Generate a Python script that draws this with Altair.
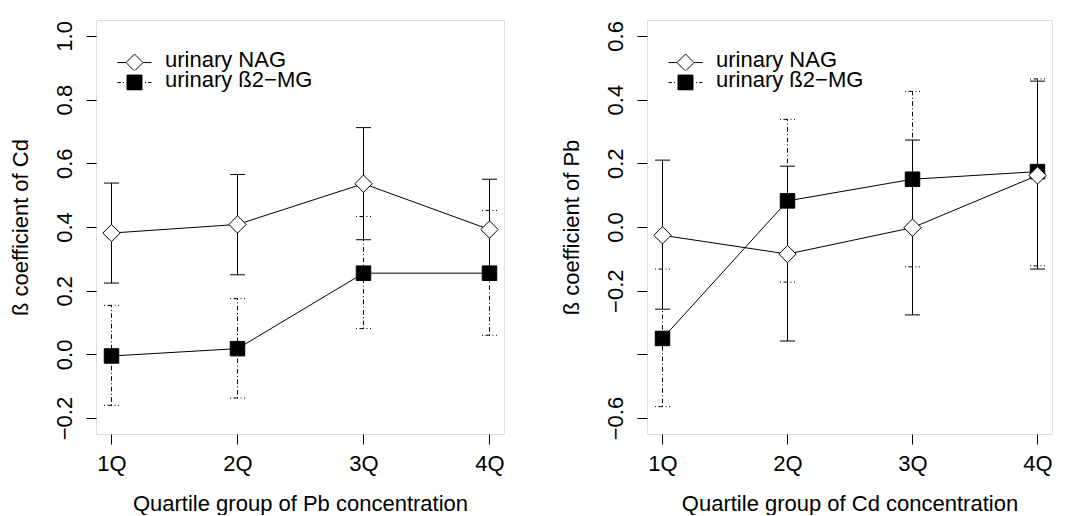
import altair as alt
import pandas as pd

# ---------------- data ----------------
quartile_pos = [1, 2, 3, 4]
series_names = ["urinary NAG", "urinary ß2−MG"]

# Left panel: beta coefficient of Cd by quartile of Pb
left_nag = [0.381, 0.408, 0.536, 0.392]
left_nag_lo = [0.224, 0.250, 0.360, 0.234]
left_nag_hi = [0.538, 0.565, 0.712, 0.550]
left_b2 = [-0.005, 0.018, 0.255, 0.255]
left_b2_lo = [-0.160, -0.137, 0.081, 0.060]
left_b2_hi = [0.154, 0.175, 0.433, 0.452]

# Right panel: beta coefficient of Pb by quartile of Cd
right_nag = [-0.026, -0.085, -0.002, 0.162]
right_nag_lo = [-0.258, -0.358, -0.276, -0.132]
right_nag_hi = [0.210, 0.191, 0.273, 0.458]
right_b2 = [-0.350, 0.082, 0.150, 0.174]
right_b2_lo = [-0.564, -0.173, -0.125, -0.122]
right_b2_hi = [-0.132, 0.338, 0.426, 0.465]

left_yticks = [-0.2, 0.0, 0.2, 0.4, 0.6, 0.8, 1.0]
right_yticks = [-0.6, -0.4, -0.2, 0.0, 0.2, 0.4, 0.6]

FONT = "Liberation Sans"
FS = 22
DOTDASH = [1, 2.5, 4.5, 2.5]


def make_df(nag, nag_lo, nag_hi, b2, b2_lo, b2_hi):
    rows = []
    for i, q in enumerate(quartile_pos):
        rows.append(dict(q=q, series=series_names[0], est=nag[i], lo=nag_lo[i], hi=nag_hi[i]))
    for i, q in enumerate(quartile_pos):
        rows.append(dict(q=q, series=series_names[1], est=b2[i], lo=b2_lo[i], hi=b2_hi[i]))
    return pd.DataFrame(rows)


# legend glyphs: line + marker, defined in a [-1, 1] box (shifted down a bit)
NAG_PATH = ("M-1,0.18L-0.5,0.18M0.5,0.18L1,0.18"
            "M-0.5,0.18L0,-0.32L0.5,0.18L0,0.68Z")
B2_PATH = ("M-1,0.18L-0.8,0.18M-0.68,0.18L-0.62,0.18"
           "M0.62,0.18L0.68,0.18M0.8,0.18L1,0.18"
           "M-0.44,-0.26L0.44,-0.26L0.44,0.62L-0.44,0.62Z")


def panel(df, ydomain, yticks, ytitle, xtitle, width, px_per_unit, hide_label=None):
    if hide_label is None:
        lab = "replace(format(datum.value, '.1f'), '-', '−')"
    else:
        lab = ("abs(datum.value - (%s)) < 1e-6 ? '' : replace(format(datum.value, '.1f'), '-', '−')"
               % hide_label)
    xaxis = alt.Axis(values=quartile_pos, labelExpr="datum.value + 'Q'", tickSize=10,
                     labelPadding=9, titlePadding=19, domain=False, grid=False,
                     labelFontSize=FS, titleFontSize=FS, labelFont=FONT, titleFont=FONT,
                     titleFontWeight="normal", tickColor="black", labelColor="black",
                     titleColor="black", tickWidth=1)
    yaxis = alt.Axis(values=yticks, labelExpr=lab, tickSize=10, labelAngle=270,
                     labelAlign="center", labelBaseline="alphabetic", labelPadding=15,
                     titlePadding=21, domain=False, grid=False, labelOverlap=False,
                     labelFontSize=FS, titleFontSize=FS, labelFont=FONT, titleFont=FONT,
                     titleFontWeight="normal", tickColor="black", labelColor="black",
                     titleColor="black", tickWidth=1)
    x_lo = 1 - 15.5 / px_per_unit
    x_hi = x_lo + width / px_per_unit
    xs = alt.Scale(domain=[x_lo, x_hi], nice=False, zero=False)
    ys = alt.Scale(domain=ydomain, nice=False, zero=False)

    X = alt.X("q:Q", scale=xs, axis=xaxis, title=xtitle)
    X2 = alt.X2("q:Q")

    def Y(field):
        return alt.Y(field + ":Q", scale=ys, axis=yaxis, title=ytitle)

    base = alt.Chart(df)
    nag = base.transform_filter(alt.datum.series == series_names[0])
    b2 = base.transform_filter(alt.datum.series == series_names[1])

    layers = []
    # beta2-MG error bars (dot-dash)
    layers.append(b2.mark_rule(color="black", strokeWidth=1, strokeDash=DOTDASH)
                  .encode(x=X, y=Y("lo"), y2=alt.Y2("hi:Q")))
    for f in ["lo", "hi"]:
        layers.append(b2.mark_rule(color="black", strokeWidth=1, strokeDash=DOTDASH,
                                   xOffset=-7.5, x2Offset=7.5)
                      .encode(x=X, x2=X2, y=Y(f)))
    # NAG error bars (solid)
    layers.append(nag.mark_rule(color="black", strokeWidth=1)
                  .encode(x=X, y=Y("lo"), y2=alt.Y2("hi:Q")))
    for f in ["lo", "hi"]:
        layers.append(nag.mark_rule(color="black", strokeWidth=1, xOffset=-7.5, x2Offset=7.5)
                      .encode(x=X, x2=X2, y=Y(f)))
    # connecting lines
    layers.append(b2.mark_line(color="black", strokeWidth=1).encode(x=X, y=Y("est")))
    layers.append(nag.mark_line(color="black", strokeWidth=1).encode(x=X, y=Y("est")))
    # markers
    layers.append(b2.mark_point(shape="square", size=210, fill="black", stroke="black",
                                strokeWidth=1, opacity=1, fillOpacity=1)
                  .encode(x=X, y=Y("est")))
    layers.append(nag.mark_point(shape="diamond", size=300, fill="white", stroke="black",
                                 strokeWidth=1, opacity=1, fillOpacity=1)
                  .encode(x=X, y=Y("est")))
    # legend carrier (no rows drawn)
    leg = alt.Legend(orient="none", legendX=21, legendY=31, title=None,
                     labelFontSize=FS, labelFont=FONT, labelColor="black",
                     symbolSize=1156, symbolStrokeWidth=1, symbolStrokeColor="black",
                     symbolOpacity=1, clipHeight=17, rowPadding=-10, labelOffset=13,
                     padding=0, labelLimit=0)
    layers.append(base.transform_filter("false")
                  .mark_point(filled=True, opacity=1, strokeWidth=1)
                  .encode(x=X, y=Y("est"),
                          shape=alt.Shape("series:N",
                                          scale=alt.Scale(domain=series_names,
                                                          range=[NAG_PATH, B2_PATH]),
                                          legend=leg),
                          fill=alt.Fill("series:N",
                                        scale=alt.Scale(domain=series_names,
                                                        range=["white", "black"]),
                                        legend=leg),
                          stroke=alt.Stroke("series:N",
                                            scale=alt.Scale(domain=series_names,
                                                            range=["black", "black"]),
                                            legend=leg)))
    return alt.layer(*layers).properties(width=width, height=414)


left_df = make_df(left_nag, left_nag_lo, left_nag_hi, left_b2, left_b2_lo, left_b2_hi)
right_df = make_df(right_nag, right_nag_lo, right_nag_hi, right_b2, right_b2_lo, right_b2_hi)

left = panel(left_df, [-0.25, 1.05], left_yticks, "ß coefficient of Cd",
             "Quartile group of Pb concentration", 408, 126)
right = panel(right_df, [-0.65, 0.65], right_yticks, "ß coefficient of Pb",
              "Quartile group of Cd concentration", 405, 125, hide_label="-0.4")

chart = (alt.hconcat(left, right, spacing=143, bounds="flush")
         .resolve_scale(shape="independent", fill="independent", stroke="independent")
         .resolve_legend(shape="independent", fill="independent", stroke="independent")
         .properties(padding={"left": 0, "top": 11, "right": 5, "bottom": 0})
         .configure_view(stroke="black", strokeWidth=1)
         .configure(background="white"))

chart.save("out.html", embed_options={"renderer": "svg", "actions": False})
